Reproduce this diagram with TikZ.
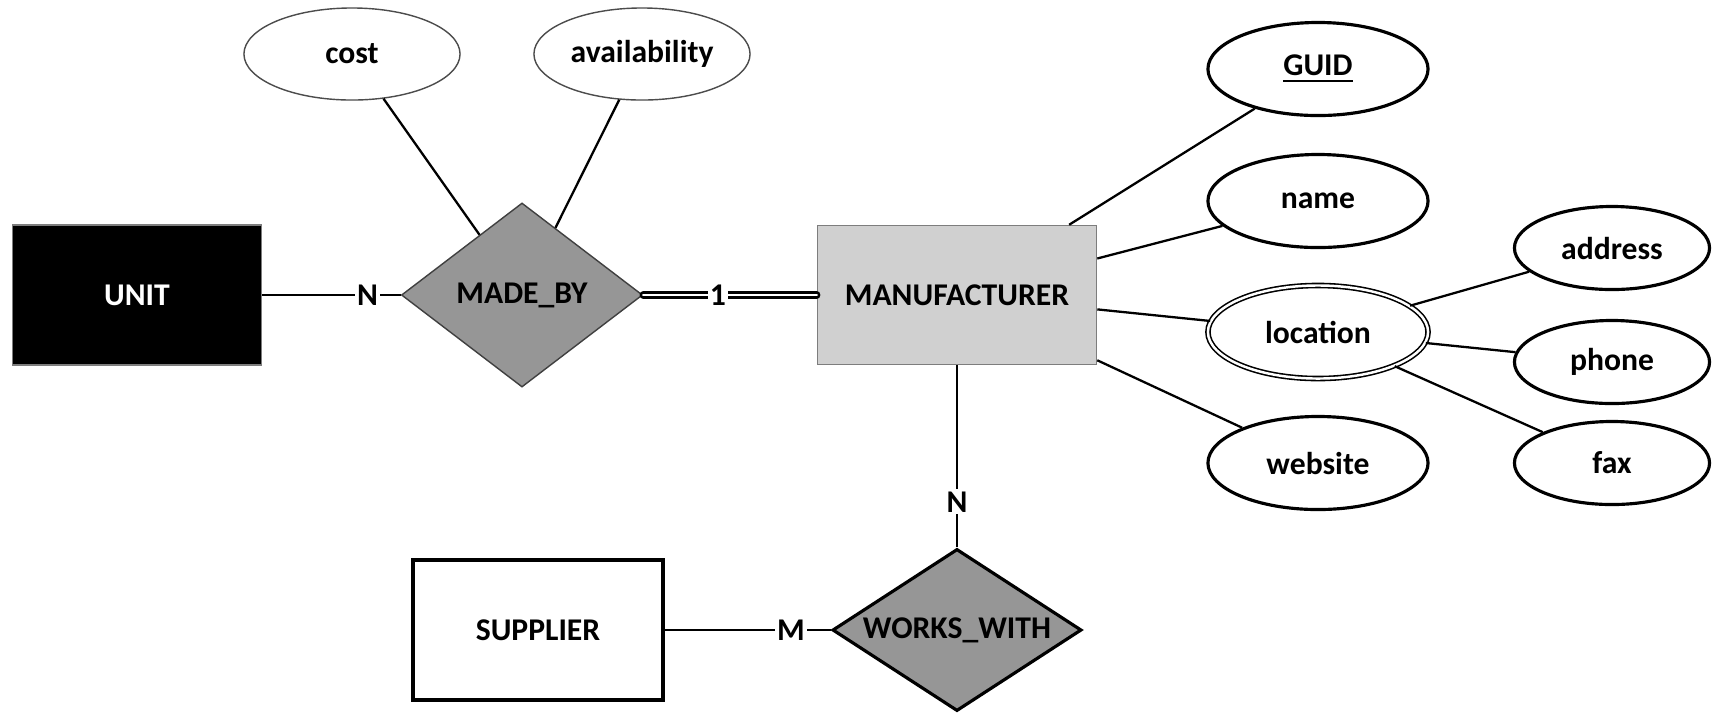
\documentclass[tikz,border=0pt]{standalone}
\usepackage{fontspec}
\setmainfont{Carlito}
\usetikzlibrary{shapes.geometric}
\definecolor{entgray}{RGB}{208,208,208}
\definecolor{relgray}{RGB}{150,150,150}
\definecolor{rimgray}{RGB}{125,125,125}
\newcommand{\erfont}{\fontsize{9}{10.5}\selectfont\bfseries}
\tikzset{
  entity/.style={rectangle, minimum width=2.49cm, minimum height=1.40cm,
                 inner sep=0pt, font=\erfont},
  rel/.style={diamond, fill=relgray, inner sep=0pt, font=\erfont},
  attr/.style={ellipse, draw, line width=0.9pt, fill=white, inner sep=0pt,
               minimum width=2.2cm, minimum height=0.93cm, font=\erfont},
  subattr/.style={attr, minimum width=1.95cm, minimum height=0.83cm},
  thinattr/.style={attr, draw=black!70, line width=0.4pt,
                   minimum width=2.16cm, minimum height=0.92cm},
  lnk/.style={line width=0.65pt},
  lbl/.style={fill=white, inner sep=0.6pt, font=\erfont},
}
\begin{document}
\begin{tikzpicture}[x=0.01cm, y=-0.01cm]
  \useasboundingbox (0,0) rectangle (1717,714);

  % ---- entities ----
  \node[entity, draw=rimgray, fill=black, text=white] (unit) at (137,295) {UNIT};
  \node[entity, draw=rimgray, fill=entgray, minimum width=2.79cm,
        minimum height=1.39cm] (manuf) at (957,295) {MANUFACTURER};
  \node[entity, draw=black, line width=1.1pt, fill=white] (supplier)
    at (538,630) {SUPPLIER};

  % ---- relationships ----
  \node[rel, draw=black!75, line width=0.4pt, aspect=1.31,
        minimum width=2.41cm, minimum height=1.84cm] (madeby) at (522,295) {MADE\_BY};
  \node[rel, draw=black, line width=0.9pt, aspect=1.54,
        minimum width=2.49cm, minimum height=1.62cm] (workswith) at (957,630) {WORKS\_WITH};

  % ---- attributes ----
  \node[thinattr] (cost)  at (352,54) {cost};
  \node[thinattr] (avail) at (642,54) {availability};
  \node[attr] (guid)    at (1318,69)  {\underline{GUID}};
  \node[attr] (name)    at (1318,201) {name};
  \node[attr, double, line width=0.45pt, double distance=0.7pt] (location)
    at (1318,332) {location};
  \node[attr] (website) at (1318,463) {website};
  \node[subattr] (address) at (1612,248) {address};
  \node[subattr] (phone)   at (1612,362) {phone};
  \node[subattr] (fax)     at (1612,463) {fax};

  % ---- connectors ----
  \draw[lnk] (unit) -- (madeby) node[lbl, pos=0.76] {N};
  \draw[lnk, double, double distance=0.8pt, line cap=round] (madeby) -- (manuf)
    node[lbl, pos=0.43] {1};
  \draw[lnk] (manuf) -- (workswith) node[lbl, pos=0.75] {N};
  \draw[lnk] (supplier) -- (workswith) node[lbl, pos=0.76] {M};
  \foreach \a in {cost, avail}
    \draw[lnk] (\a) -- (madeby);
  \foreach \a in {guid, name, location, website}
    \draw[lnk] (manuf) -- (\a);
  \foreach \a in {address, phone, fax}
    \draw[lnk] (location) -- (\a);
\end{tikzpicture}
\end{document}
